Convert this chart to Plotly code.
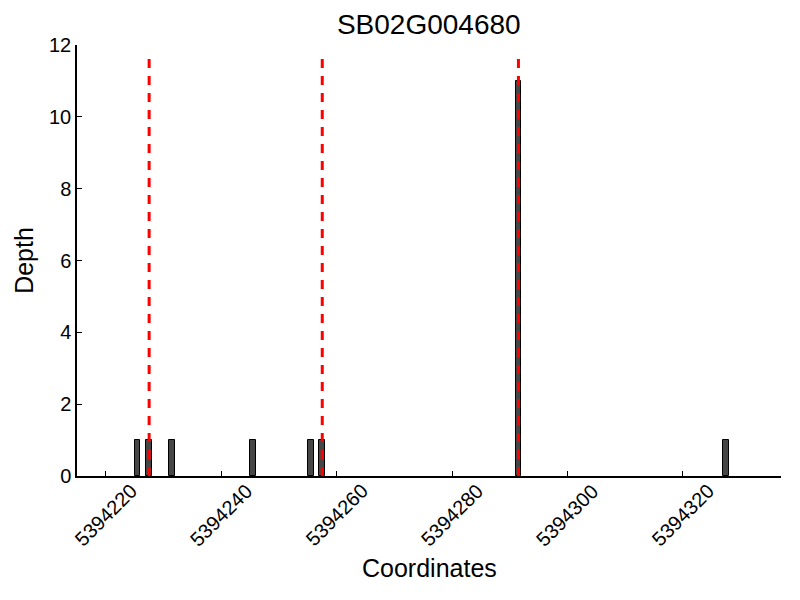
import plotly.graph_objects as go

# read coverage at each start coordinate, one base per bar
positions = [5394225, 5394227, 5394231, 5394245, 5394255, 5394257, 5394291, 5394327]
depths = [1, 1, 1, 1, 1, 1, 11, 1]
# marked sites (red dashed lines)
sites = [5394227, 5394257, 5394291]

x_range = [5394215, 5394337]
y_range = [0, 12]
x_ticks = [5394220, 5394240, 5394260, 5394280, 5394300, 5394320]
y_ticks = [0, 2, 4, 6, 8, 10, 12]

FONT = "Liberation Sans, Arial, sans-serif"

fig = go.Figure()
fig.add_trace(
    go.Bar(
        x=[p + 0.5 for p in positions],
        y=depths,
        width=1,
        marker=dict(color="#464646", line=dict(color="black", width=1)),
        showlegend=False,
    )
)

for s in sites:
    fig.add_shape(
        type="line",
        x0=s + 0.5, x1=s + 0.5,
        y0=0, y1=0.985,
        xref="x", yref="paper",
        line=dict(color="red", width=3, dash="9px,8px"),
        layer="above",
    )

# rotated x tick labels centred under their ticks (matplotlib style)
for t in x_ticks:
    fig.add_annotation(
        x=t, y=0, xref="x", yref="paper",
        text=str(t), textangle=-45,
        xanchor="center", yanchor="middle",
        yshift=-39, showarrow=False,
        font=dict(family=FONT, size=20, color="black"),
    )

fig.add_annotation(
    x=0.5, y=0, xref="paper", yref="paper",
    text="Coordinates", xanchor="center", yanchor="middle",
    yshift=-92, showarrow=False,
    font=dict(family=FONT, size=25, color="black"),
)

# page body has an 8px margin, so the plot box is shifted up/left by 8
fig.update_layout(
    width=800,
    height=600,
    margin=dict(l=69, r=27, t=37, b=132),
    paper_bgcolor="white",
    plot_bgcolor="white",
    font=dict(family=FONT, size=20, color="black"),
    title=dict(
        text="SB02G004680",
        x=0.526, xanchor="center",
        y=0.973, yanchor="middle",
        font=dict(family=FONT, size=28, color="black"),
        automargin=False,
    ),
    bargap=0,
)

fig.update_xaxes(
    range=x_range,
    tickvals=x_ticks,
    showticklabels=False,
    ticks="inside",
    ticklen=5,
    tickcolor="black",
    showline=True,
    linecolor="black",
    linewidth=1.5,
    showgrid=False,
    zeroline=False,
    automargin=False,
)
fig.update_yaxes(
    range=y_range,
    tickvals=y_ticks,
    ticks="inside",
    ticklen=5,
    tickcolor="black",
    showline=True,
    linecolor="black",
    linewidth=1.5,
    showgrid=False,
    zeroline=False,
    automargin=False,
    title=dict(text="Depth", font=dict(family=FONT, size=25), standoff=8),
    tickfont=dict(family=FONT, size=20),
)

fig.write_html("out.html")
